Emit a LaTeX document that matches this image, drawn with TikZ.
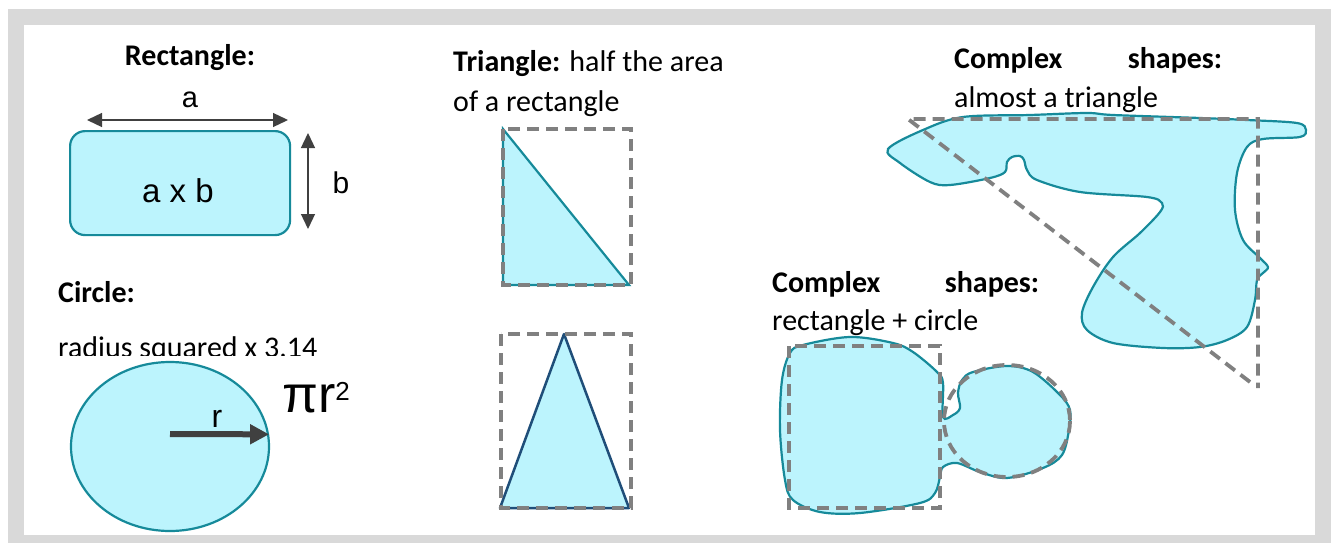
\documentclass[tikz,border=0pt]{standalone}
\usepackage{fontspec}
\setmainfont{Carlito}
\newfontfamily\arialf{Liberation Sans}
\usetikzlibrary{arrows.meta,shapes.geometric}
\definecolor{fillc}{HTML}{BCF4FD}
\definecolor{edgec}{HTML}{168A9A}
\definecolor{frameg}{HTML}{D9D9D9}
\definecolor{dashg}{HTML}{808080}
\definecolor{arrowg}{HTML}{404040}
\definecolor{navyc}{HTML}{1F4E79}
\newcommand\bodyfs{\fontsize{30}{36}\selectfont}
\begin{document}
\begin{tikzpicture}[x=1pt,y=-1pt,
  shapefill/.style={fill=fillc, draw=edgec, line width=2.2pt},
  guide/.style={draw=dashg, line width=3.8pt, dash pattern=on 12pt off 7pt},
  dimarrow/.style={draw=arrowg, line width=1.3pt, {Triangle[length=15pt,width=14pt]}-{Triangle[length=15pt,width=14pt]}},
  radarrow/.style={draw=arrowg, line width=6pt, -{Triangle[length=19pt,width=19pt]}},
  txt/.style={inner sep=0pt, anchor=base west, font=\bodyfs},
  arl/.style={inner sep=0pt, anchor=base}]
\useasboundingbox (0,0) rectangle (1336,543);
\fill[white] (0,0) rectangle (1336,543);
% frame
\fill[frameg] (8,9) rectangle (1331,543);
\fill[white] (24,25) rectangle (1315,535);

% ---------- Rectangle ----------
\node[txt, anchor=base] (recttitle) at (190,66) {\textbf{Rectangle:}};
\node[shapefill, rounded corners=15pt, minimum width=220pt, minimum height=104pt, anchor=north west, inner sep=0pt] (rect) at (69,130) {};
\node[arl, font=\arialf\fontsize{33}{36}\selectfont] (axb) at (178,202) {a x b};
\coordinate (aL) at (87,120);
\coordinate (aR) at (288,120);
\draw[dimarrow] (aL) -- (aR);
\node[arl, font=\arialf\fontsize{29}{32}\selectfont] (alabel) at (190,107) {a};
\coordinate (bT) at (308,133);
\coordinate (bB) at (308,229);
\draw[dimarrow] (bT) -- (bB);
\node[arl, font=\arialf\fontsize{30}{32}\selectfont] (blabel) at (341,193) {b};

% ---------- Circle ----------
\node[txt] (circtitle) at (58,302) {\textbf{Circle:}};
\begin{scope}
  \clip (30,300) rectangle (420,355);
  \node[txt] (circtext) at (58,357) {radius squared x 3.14};
\end{scope}
\node[shapefill, ellipse, minimum width=198pt, minimum height=169pt, inner sep=0pt] (circ) at (170,446.5) {};
\coordinate (rstart) at (170,434);
\draw[radarrow] (rstart) -- (circ.7.3);
\node[arl, font=\arialf\fontsize{32}{34}\selectfont] (rlabel) at (217,427) {r};
\node[inner sep=0pt, anchor=base west] (pir) at (282,412)
  {\arialf\fontsize{52}{52}\selectfont πr\raisebox{12pt}{\fontsize{26}{26}\selectfont 2}};

% ---------- Triangles ----------
\node[txt] (tri1a) at (453,72) {\textbf{Triangle:} half the area};
\node[txt] (tri1b) at (453,111) {of a rectangle};
\draw[shapefill] (503,129) -- (503,285) -- (629,285) -- cycle;
\draw[guide] (503,129) rectangle (631,285);

\draw[fill=fillc, draw=navyc, line width=2.5pt, line join=round] (564,334) -- (500,508) -- (629,508) -- cycle;
\draw[guide] (501,334) rectangle (631,508);

% ---------- Complex: almost a triangle ----------
\node[txt] (cx1a) at (954,69) {\makebox[268pt][l]{\textbf{Complex}\hfill\textbf{shapes:}}};
\node[txt] (cx1b) at (954,107) {almost a triangle};
\draw[shapefill] plot[smooth cycle, tension=0.55] coordinates {
 (888,149) (923,130) (963,117) (1030,115) (1087,113) (1113,115) (1200,118)
 (1247,120) (1297,123) (1306,130) (1300,137) (1263,139) (1247,147) (1237,173)
 (1235,210) (1243,240) (1260,258) (1268,267) (1263,273) (1257,280) (1255,300)
 (1247,327) (1227,340) (1200,347) (1163,348) (1113,343) (1087,330) (1082,313)
 (1093,287) (1113,257) (1140,233) (1160,212) (1162,203) (1147,197) (1080,192)
 (1037,180) (1027,170) (1024,160) (1020,156) (1012,157) (1007,162) (1005,172)
 (990,178) (950,185) (930,182) (900,163)};
\draw[guide] (1250,382) -- (908,119) -- (1258,119) -- (1258,388);

% ---------- Complex: rectangle + circle ----------
\node[txt] (cx2a) at (772,292) {\makebox[267pt][l]{\textbf{Complex}\hfill\textbf{shapes:}}};
\node[txt] (cx2b) at (772,330) {rectangle + circle};
\draw[shapefill] plot[smooth cycle, tension=0.55] coordinates {
 (803,345) (850,337) (893,343) (913,352) (937,372) (943,383) (943,417)
 (953,415) (960,408) (958,393) (962,380) (973,372) (1007,366) (1033,372)
 (1060,395) (1070,410) (1069,430) (1062,455) (1043,468) (1007,478) (980,472)
 (957,463) (943,467) (940,477) (935,493) (920,503) (860,513) (820,512)
 (793,500) (785,480) (780,430) (782,380) (790,353)};
\draw[guide] (789,346) rectangle (940,508);
\draw[guide] (1007,421) ellipse [x radius=63, y radius=56];
\end{tikzpicture}
\end{document}
